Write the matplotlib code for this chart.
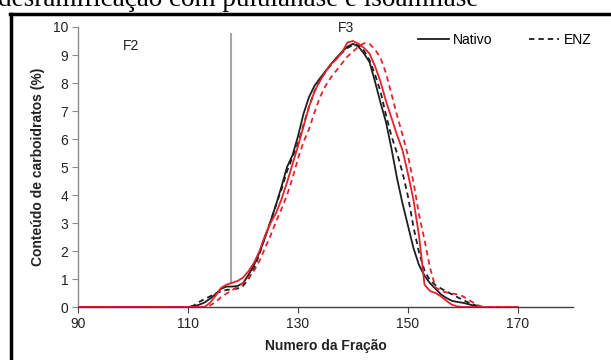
import matplotlib
matplotlib.use("Agg")
import matplotlib.pyplot as plt
from matplotlib.lines import Line2D

plt.rcParams['font.family'] = ['Liberation Sans', 'DejaVu Sans']

# Fraction numbers
frac_black = list(range(90, 164))
frac_red = list(range(90, 171))

# Carbohydrate content (%) per fraction
nativo_black = [
    0, 0, 0, 0, 0, 0, 0, 0, 0, 0,
    0, 0, 0, 0, 0, 0, 0, 0, 0, 0,
    0, 0.02, 0.08, 0.16, 0.30, 0.46, 0.65, 0.73, 0.73, 0.75,
    0.85, 1.15, 1.50, 1.95, 2.48, 3.05, 3.65, 4.30, 5.00, 5.42,
    6.10, 6.90, 7.50, 7.90, 8.17, 8.42, 8.68, 8.90, 9.12, 9.30,
    9.40, 9.30, 9.05, 8.75, 8.05, 7.30, 6.60, 5.65, 4.60, 3.70,
    2.90, 2.10, 1.50, 1.12, 0.85, 0.65, 0.45, 0.32, 0.22, 0.18,
    0.15, 0.10, 0.05, 0,
]
enz_black = [
    0, 0, 0, 0, 0, 0, 0, 0, 0, 0,
    0, 0, 0, 0, 0, 0, 0, 0, 0, 0,
    0, 0.05, 0.18, 0.28, 0.38, 0.48, 0.56, 0.61, 0.63, 0.66,
    0.75, 1.00, 1.38, 1.90, 2.50, 3.05, 3.65, 4.20, 4.85, 5.35,
    5.85, 6.50, 7.15, 7.70, 8.10, 8.40, 8.65, 8.88, 9.08, 9.25,
    9.36, 9.35, 9.15, 8.82, 8.30, 7.70, 6.85, 6.10, 5.50, 4.80,
    3.95, 2.85, 1.95, 1.30, 0.95, 0.78, 0.66, 0.56, 0.45, 0.35,
    0.25, 0.16, 0.08, 0.02,
]
nativo_red = [
    0, 0, 0, 0, 0, 0, 0, 0, 0, 0,
    0, 0, 0, 0, 0, 0, 0, 0, 0, 0,
    0, 0, 0, 0, 0.15, 0.40, 0.68, 0.80, 0.86, 0.93,
    1.05, 1.28, 1.58, 2.00, 2.55, 3.00, 3.35, 3.85, 4.45, 5.10,
    5.75, 6.45, 7.15, 7.70, 8.08, 8.40, 8.68, 8.85, 9.10, 9.45,
    9.50, 9.40, 9.25, 9.05, 8.60, 8.05, 7.35, 6.75, 6.15, 5.60,
    4.75, 3.82, 2.55, 0.80, 0.57, 0.50, 0.38, 0.22, 0.08, 0.02,
    0, 0, 0, 0, 0, 0, 0, 0, 0, 0,
    0,
]
enz_red = [
    0, 0, 0, 0, 0, 0, 0, 0, 0, 0,
    0, 0, 0, 0, 0, 0, 0, 0, 0, 0,
    0, 0, 0, 0, 0.05, 0.18, 0.35, 0.48, 0.60, 0.72,
    0.86, 1.05, 1.30, 1.65, 2.10, 2.55, 3.05, 3.50, 4.00, 4.60,
    5.30, 5.90, 6.35, 6.95, 7.50, 7.90, 8.20, 8.45, 8.70, 8.95,
    9.12, 9.30, 9.42, 9.40, 9.20, 8.90, 8.35, 7.60, 6.85, 6.15,
    5.40, 4.45, 3.30, 2.40, 1.40, 0.70, 0.57, 0.52, 0.48, 0.45,
    0.38, 0.26, 0.14, 0.04, 0, 0, 0, 0, 0, 0,
    0,
]

# Divider between fractions F2 and F3
divider_x = 117.8
divider_y = [0.85, 9.75]

x_ticks = [90, 110, 130, 150, 170]
y_ticks = list(range(0, 11))

BLACK = '#1e1e1e'
RED = '#e3222b'

fig = plt.figure(figsize=(6.11, 3.60), dpi=100)
ax = fig.add_axes([0.1277, 0.1472, 0.8101, 0.7778])

lw = 1.3
dash = (3.0, 2.2)
ax.plot(frac_black, nativo_black, color=BLACK, lw=lw, label='Nativo', zorder=3)
ax.plot(frac_black, enz_black, color=BLACK, lw=lw, ls=(0, dash), label='ENZ', zorder=3)
ax.plot(frac_red, nativo_red, color=RED, lw=lw, zorder=4)
ax.plot(frac_red, enz_red, color=RED, lw=lw, ls=(0, dash), zorder=4)

ax.plot([divider_x, divider_x], divider_y, color='#a6a6a6', lw=1.5, zorder=2)

ax.set_xlim(90, 180)
ax.set_ylim(0, 10)
ax.set_xticks(x_ticks)
ax.set_yticks(y_ticks)
ax.tick_params(axis='both', direction='out', length=4, width=0.8,
               labelsize=10, colors='#222222', pad=3)
ax.tick_params(axis='y', color='#8c8c8c')
ax.tick_params(axis='x', color='#404040')

for side in ('top', 'right'):
    ax.spines[side].set_visible(False)
ax.spines['left'].set_color('#8c8c8c')
ax.spines['left'].set_linewidth(1.0)
ax.spines['bottom'].set_color('#404040')
ax.spines['bottom'].set_linewidth(1.0)

ax.set_xlabel('Numero da Fração', fontsize=10, fontweight='bold', color='#222222', labelpad=6)
ax.set_ylabel('Conteúdo de carboidratos (%)', fontsize=10, fontweight='bold', color='#222222', labelpad=6)

ax.text(99.6, 9.32, 'F2', fontsize=10, ha='center', va='center', color='#222222')
ax.text(138.7, 9.96, 'F3', fontsize=10, ha='center', va='center', color='#222222')

ax.legend(loc='upper right', bbox_to_anchor=((594 - 78) / 495, 0.99), ncol=2, frameon=False,
          fontsize=10, handlelength=2.2, handletextpad=0.3, columnspacing=2.6,
          borderaxespad=0, borderpad=0.2)

# Page frame and caption above it
fig.add_artist(Line2D([11 / 611, 11 / 611], [0, 1 - 14 / 360], color='black', lw=2.5,
                      transform=fig.transFigure))
fig.add_artist(Line2D([10 / 611, 1], [1 - 14 / 360, 1 - 14 / 360], color='black', lw=2.5,
                      transform=fig.transFigure))
fig.text(-2 / 611, 1 - 6 / 360, 'desramificação com pululanase e isoamilase',
         family=['Liberation Serif', 'DejaVu Serif'], fontsize=19.5, ha='left', va='baseline',
         color='black')

fig.savefig('out.png', dpi=100)
